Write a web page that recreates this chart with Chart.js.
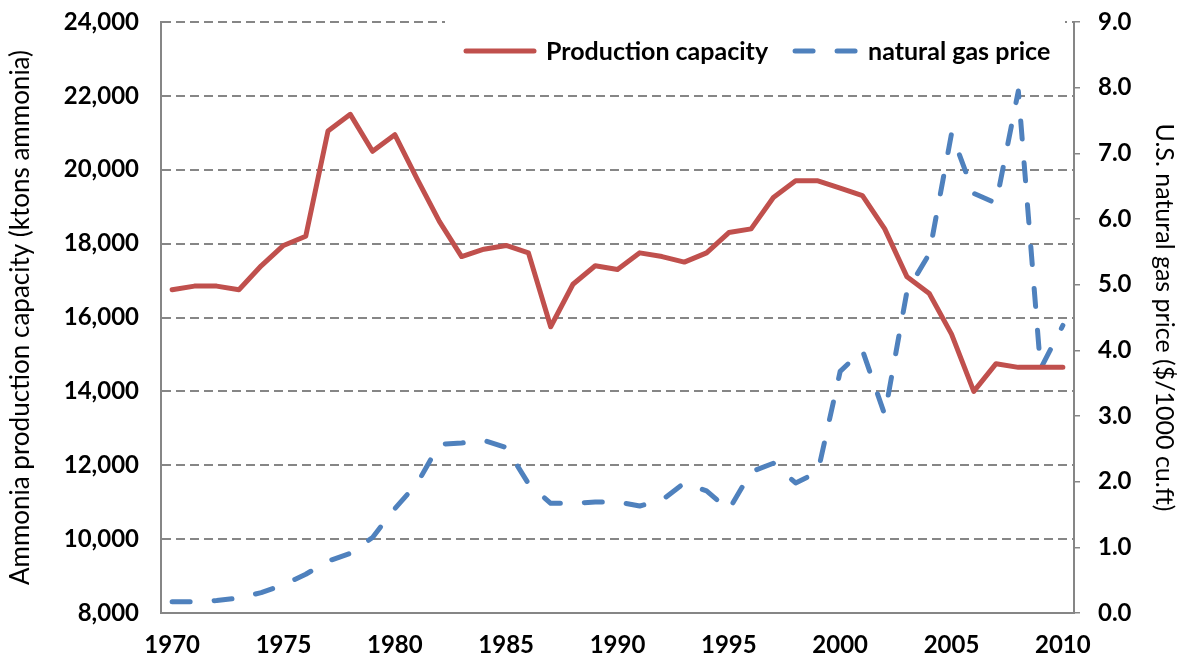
<!DOCTYPE html>
<html>
<head>
<meta charset="utf-8">
<title>Ammonia production capacity and natural gas price</title>
<script src="https://cdn.jsdelivr.net/npm/chart.js@4.4.0/dist/chart.umd.min.js"></script>
<style>
	html, body { margin: 0; padding: 0; background: #ffffff; }
	#holder { width: 1182px; height: 660px; position: relative; }
</style>
</head>
<body>
<div id="holder"><canvas id="chart" width="1182" height="660"></canvas></div>
<script>
(function () {
	'use strict';

	var years = ['1970', '1971', '1972', '1973', '1974', '1975', '1976', '1977', '1978', '1979',
		'1980', '1981', '1982', '1983', '1984', '1985', '1986', '1987', '1988', '1989',
		'1990', '1991', '1992', '1993', '1994', '1995', '1996', '1997', '1998', '1999',
		'2000', '2001', '2002', '2003', '2004', '2005', '2006', '2007', '2008', '2009', '2010'];

	// ktons ammonia (left axis)
	var capacity = [16750, 16850, 16850, 16750, 17400, 17950, 18200, 21050, 21500, 20500,
		20950, 19750, 18600, 17650, 17850, 17950, 17750, 15750, 16900, 17400,
		17300, 17750, 17650, 17500, 17750, 18300, 18400, 19250, 19700, 19700,
		19500, 19300, 18400, 17100, 16650, 15550, 14000, 14750, 14650, 14650, 14650];

	// $/1000 cu.ft (right axis)
	var gasPrice = [0.17, 0.17, 0.19, 0.23, 0.31, 0.43, 0.59, 0.79, 0.91, 1.15,
		1.59, 1.97, 2.57, 2.59, 2.63, 2.52, 1.97, 1.67, 1.67, 1.69,
		1.69, 1.63, 1.72, 1.98, 1.86, 1.57, 2.15, 2.28, 1.98, 2.15,
		3.68, 4.00, 3.02, 4.90, 5.47, 7.30, 6.39, 6.24, 7.95, 3.72, 4.38];

	var seriesNames = ['Production capacity', 'natural gas price'];
	var yearTicks = ['1970', '1975', '1980', '1985', '1990', '1995', '2000', '2005', '2010'];

	var axisGray = '#868686',
		fontFamily = 'Lato, "Open Sans", sans-serif';

	/**
	 * Legend drawn inside the plot area on a white box
	 */
	var insideLegend = {
		id: 'insideLegend',
		afterDatasetsDraw: function (chart) {
			var ctx = chart.ctx,
				sets = chart.data.datasets,
				x = 466,
				y = 51;

			ctx.save();
			ctx.fillStyle = '#ffffff';
			ctx.fillRect(445, 8, 620, 74);
			ctx.font = 'bold 25px ' + fontFamily;
			ctx.textBaseline = 'middle';
			ctx.textAlign = 'left';

			sets.forEach(function (ds, i) {
				var len = i === 0 ? 68 : 61;
				ctx.beginPath();
				ctx.lineWidth = 5;
				ctx.lineCap = 'round';
				ctx.strokeStyle = ds.borderColor;
				ctx.setLineDash(ds.borderDash || []);
				ctx.moveTo(x, y);
				ctx.lineTo(x + len, y);
				ctx.stroke();
				ctx.setLineDash([]);
				x += len + 12;
				ctx.fillStyle = '#000000';
				ctx.fillText(ds.label, x, y + 1);
				x += ctx.measureText(ds.label).width + 27;
			});
			ctx.restore();
		}
	};

	// fixed box sizes so the plot area sits where the original one does
	function fitVertical(width) {
		return function (scale) {
			scale.width = width;
			scale.paddingTop = 0;
			scale.paddingBottom = 0;
		};
	}

	function evcInitChart() {
		var canvas = document.getElementById('chart');

		new Chart(canvas, {
			type: 'line',
			data: {
				labels: years,
				datasets: [{
					label: seriesNames[0],
					data: capacity,
					yAxisID: 'y',
					borderColor: '#C0504D',
					borderWidth: 5,
					borderCapStyle: 'round',
					borderJoinStyle: 'round',
					pointRadius: 0,
					tension: 0,
					fill: false
				}, {
					label: seriesNames[1],
					data: gasPrice,
					yAxisID: 'y1',
					borderColor: '#4F81BD',
					borderWidth: 5,
					borderDash: [18, 24],
					borderCapStyle: 'round',
					borderJoinStyle: 'round',
					pointRadius: 0,
					tension: 0,
					fill: false
				}]
			},
			options: {
				responsive: false,
				animation: false,
				devicePixelRatio: 1,
				layout: { padding: { top: 22, left: 0, right: 0, bottom: 0 } },
				plugins: {
					legend: { display: false },
					tooltip: { enabled: false }
				},
				scales: {
					x: {
						type: 'category',
						offset: true,
						afterFit: function (scale) { scale.height = 47; },
						grid: { display: false, drawTicks: false },
						border: { display: true, color: axisGray, width: 2 },
						ticks: {
							autoSkip: false,
							maxRotation: 0,
							padding: 18,
							color: '#000000',
							font: { family: fontFamily, size: 24, weight: 'bold' },
							callback: function (value) {
								var label = this.getLabelForValue(value);
								return yearTicks.indexOf(label) > -1 ? label : '';
							}
						}
					},
					y: {
						position: 'left',
						min: 8000,
						max: 24000,
						afterFit: fitVertical(161),
						grid: { color: axisGray, lineWidth: 2, drawTicks: false },
						border: { display: true, color: axisGray, width: 2, dash: [9, 5] },
						ticks: {
							stepSize: 2000,
							padding: 22,
							color: '#000000',
							font: { family: fontFamily, size: 24, weight: 'bold' },
							callback: function (value) {
								return value.toLocaleString('en-US');
							}
						},
						title: {
							display: true,
							text: 'Ammonia production capacity (ktons ammonia)',
							color: '#000000',
							padding: { top: 5, bottom: 0 },
							font: { family: fontFamily, size: 26, weight: 'normal' }
						}
					},
					y1: {
						position: 'right',
						min: 0,
						max: 9,
						afterFit: fitVertical(108),
						grid: { drawOnChartArea: false, drawTicks: true, tickLength: 6, color: axisGray, lineWidth: 1.5 },
						border: { display: true, color: axisGray, width: 2 },
						ticks: {
							stepSize: 1,
							padding: 18,
							color: '#000000',
							font: { family: fontFamily, size: 24, weight: 'bold' },
							callback: function (value) {
								return value.toFixed(1);
							}
						},
						title: {
							display: true,
							text: 'U.S. natural gas price ($/1000 cu.ft)',
							color: '#000000',
							padding: { top: 3, bottom: 0 },
							font: { family: fontFamily, size: 25, weight: 'normal' }
						}
					}
				}
			},
			plugins: [insideLegend]
		});
	}

	evcInitChart();
})();
</script>
</body>
</html>
